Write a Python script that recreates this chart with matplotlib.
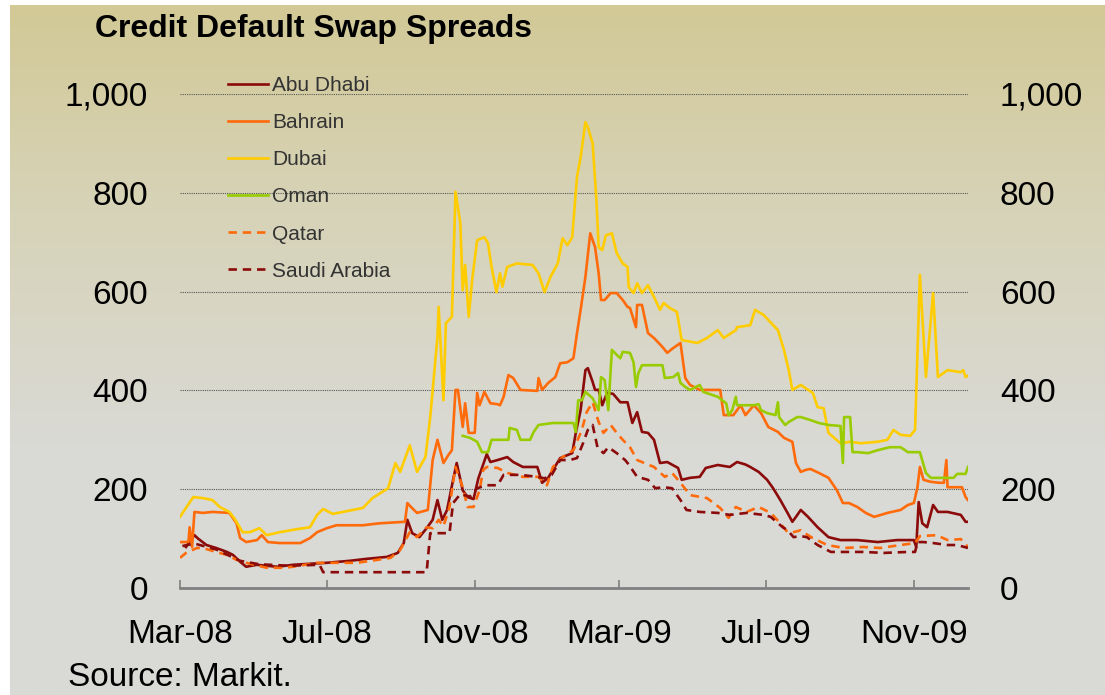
import numpy as np
import pandas as pd
import matplotlib
matplotlib.use("Agg")
import matplotlib.pyplot as plt
import matplotlib.dates as mdates
from matplotlib.ticker import FuncFormatter
from matplotlib.colors import LinearSegmentedColormap

plt.rcParams['font.family'] = ['Liberation Sans', 'DejaVu Sans']

# CDS spreads (bp)
abu_dhabi_dates = ['2008-03-06', '2008-03-13', '2008-03-16', '2008-03-23', '2008-03-31', '2008-04-09',
                   '2008-04-14', '2008-04-20', '2008-04-25', '2008-05-04', '2008-05-12', '2008-05-21',
                   '2008-06-03', '2008-06-17', '2008-07-01', '2008-07-20', '2008-08-03', '2008-08-20',
                   '2008-08-29', '2008-09-03', '2008-09-06', '2008-09-10', '2008-09-16', '2008-09-22',
                   '2008-09-27', '2008-10-01', '2008-10-05', '2008-10-09', '2008-10-14', '2008-10-17',
                   '2008-10-22', '2008-10-26', '2008-10-31', '2008-11-04', '2008-11-11', '2008-11-14',
                   '2008-11-20', '2008-11-28', '2008-12-03', '2008-12-11', '2008-12-23', '2008-12-27',
                   '2009-01-01', '2009-01-05', '2009-01-11', '2009-01-17', '2009-01-21', '2009-01-24',
                   '2009-01-28', '2009-02-01', '2009-02-03', '2009-02-07', '2009-02-09', '2009-02-12',
                   '2009-02-15', '2009-02-19', '2009-02-24', '2009-03-02', '2009-03-08', '2009-03-12',
                   '2009-03-16', '2009-03-20', '2009-03-25', '2009-03-30', '2009-04-04', '2009-04-10',
                   '2009-04-19', '2009-04-22', '2009-04-29', '2009-05-07', '2009-05-12', '2009-05-22',
                   '2009-06-01', '2009-06-07', '2009-06-14', '2009-06-18', '2009-06-25', '2009-07-02',
                   '2009-07-07', '2009-07-13', '2009-07-19', '2009-07-23', '2009-07-26', '2009-07-30',
                   '2009-08-05', '2009-08-13', '2009-08-22', '2009-09-01', '2009-09-15', '2009-10-02',
                   '2009-10-18', '2009-11-01', '2009-11-03', '2009-11-05', '2009-11-08', '2009-11-12',
                   '2009-11-17', '2009-11-21', '2009-11-29', '2009-12-10', '2009-12-14', '2009-12-16']
abu_dhabi = [83, 107, 100, 87, 81, 73, 67, 53, 43, 47, 45, 43, 47, 49, 51, 55, 59, 63, 71, 91, 138, 111,
             103, 121, 138, 178, 138, 158, 219, 253, 198, 184, 180, 222, 271, 255, 259, 265, 255, 245,
             245, 213, 223, 239, 263, 269, 273, 314, 360, 441, 445, 417, 401, 401, 370, 395, 393, 376,
             376, 334, 356, 316, 314, 300, 253, 255, 243, 219, 223, 225, 243, 249, 245, 255, 250, 245,
             235, 219, 202, 178, 152, 134, 144, 158, 144, 123, 103, 97, 97, 93, 97, 97, 83, 174, 131,
             123, 168, 154, 154, 148, 134, 134]

bahrain_dates = ['2008-03-01', '2008-03-08', '2008-03-09', '2008-03-11', '2008-03-13', '2008-03-20',
                 '2008-03-28', '2008-04-11', '2008-04-17', '2008-04-20', '2008-04-25', '2008-05-04',
                 '2008-05-08', '2008-05-13', '2008-05-23', '2008-06-09', '2008-06-17', '2008-06-23',
                 '2008-07-01', '2008-07-09', '2008-07-31', '2008-08-14', '2008-09-04', '2008-09-06',
                 '2008-09-09', '2008-09-14', '2008-09-23', '2008-09-27', '2008-10-01', '2008-10-06',
                 '2008-10-10', '2008-10-13', '2008-10-16', '2008-10-18', '2008-10-22', '2008-10-24',
                 '2008-10-27', '2008-11-01', '2008-11-03', '2008-11-05', '2008-11-09', '2008-11-14',
                 '2008-11-20', '2008-11-22', '2008-11-25', '2008-11-29', '2008-12-03', '2008-12-09',
                 '2008-12-23', '2008-12-24', '2008-12-27', '2009-01-01', '2009-01-07', '2009-01-11',
                 '2009-01-17', '2009-01-22', '2009-01-25', '2009-01-28', '2009-02-01', '2009-02-05',
                 '2009-02-09', '2009-02-12', '2009-02-14', '2009-02-17', '2009-02-22', '2009-02-27',
                 '2009-03-04', '2009-03-08', '2009-03-10', '2009-03-15', '2009-03-16', '2009-03-20',
                 '2009-03-25', '2009-03-30', '2009-04-06', '2009-04-10', '2009-04-14', '2009-04-21',
                 '2009-04-25', '2009-04-29', '2009-05-07', '2009-05-24', '2009-05-27', '2009-06-04',
                 '2009-06-10', '2009-06-14', '2009-06-21', '2009-06-27', '2009-07-03', '2009-07-11',
                 '2009-07-16', '2009-07-23', '2009-07-26', '2009-07-30', '2009-08-03', '2009-08-07',
                 '2009-08-14', '2009-08-22', '2009-08-29', '2009-09-03', '2009-09-08', '2009-09-15',
                 '2009-09-22', '2009-09-29', '2009-10-10', '2009-10-21', '2009-10-27', '2009-11-01',
                 '2009-11-04', '2009-11-06', '2009-11-09', '2009-11-15', '2009-11-22', '2009-11-26',
                 '2009-11-28', '2009-11-29', '2009-12-04', '2009-12-11', '2009-12-14', '2009-12-16']
bahrain = [93, 93, 123, 83, 154, 152, 154, 152, 131, 101, 93, 97, 107, 93, 91, 91, 101, 113, 121, 127,
           127, 131, 134, 172, 164, 152, 158, 259, 300, 253, 269, 279, 401, 401, 326, 374, 314, 314,
           395, 370, 397, 374, 372, 370, 387, 431, 425, 401, 399, 425, 401, 415, 427, 455, 457, 465,
           516, 563, 630, 718, 690, 637, 583, 583, 597, 597, 583, 569, 567, 528, 573, 573, 516, 506,
           488, 476, 484, 496, 425, 411, 401, 401, 350, 350, 370, 350, 370, 354, 326, 316, 304, 296,
           253, 235, 239, 241, 233, 223, 198, 172, 172, 164, 152, 144, 152, 158, 168, 172, 204, 245,
           219, 215, 213, 213, 259, 204, 204, 204, 184, 178]

dubai_dates = ['2008-03-01', '2008-03-12', '2008-03-20', '2008-03-28', '2008-04-03', '2008-04-11',
               '2008-04-16', '2008-04-22', '2008-04-28', '2008-05-06', '2008-05-12', '2008-05-23',
               '2008-06-06', '2008-06-17', '2008-06-23', '2008-06-28', '2008-07-06', '2008-07-31',
               '2008-08-08', '2008-08-21', '2008-08-27', '2008-08-31', '2008-09-08', '2008-09-14',
               '2008-09-21', '2008-09-25', '2008-10-01', '2008-10-02', '2008-10-06', '2008-10-08',
               '2008-10-13', '2008-10-16', '2008-10-20', '2008-10-22', '2008-10-24', '2008-10-27',
               '2008-10-30', '2008-11-03', '2008-11-09', '2008-11-12', '2008-11-15', '2008-11-19',
               '2008-11-22', '2008-11-24', '2008-11-28', '2008-12-06', '2008-12-19', '2008-12-24',
               '2008-12-29', '2009-01-03', '2009-01-09', '2009-01-13', '2009-01-17', '2009-01-21',
               '2009-01-25', '2009-01-28', '2009-02-01', '2009-02-03', '2009-02-07', '2009-02-10',
               '2009-02-12', '2009-02-15', '2009-02-18', '2009-02-23', '2009-02-27', '2009-03-04',
               '2009-03-08', '2009-03-09', '2009-03-13', '2009-03-16', '2009-03-20', '2009-03-25',
               '2009-03-30', '2009-04-04', '2009-04-07', '2009-04-12', '2009-04-18', '2009-04-22',
               '2009-05-05', '2009-05-13', '2009-05-22', '2009-05-27', '2009-06-06', '2009-06-07',
               '2009-06-18', '2009-06-22', '2009-06-29', '2009-07-11', '2009-07-16', '2009-07-20',
               '2009-07-23', '2009-07-30', '2009-08-09', '2009-08-13', '2009-08-18', '2009-08-22',
               '2009-09-01', '2009-09-09', '2009-09-18', '2009-10-02', '2009-10-10', '2009-10-15',
               '2009-10-21', '2009-10-29', '2009-11-02', '2009-11-06', '2009-11-11', '2009-11-17',
               '2009-11-21', '2009-11-29', '2009-12-10', '2009-12-12', '2009-12-14', '2009-12-16']
dubai = [144, 184, 182, 178, 164, 154, 138, 113, 113, 121, 107, 113, 119, 123, 148, 160, 150, 162, 182,
         202, 253, 235, 289, 235, 265, 346, 508, 569, 380, 536, 549, 802, 739, 603, 654, 549, 627, 704,
         710, 698, 650, 599, 637, 610, 650, 657, 654, 637, 599, 630, 657, 708, 694, 710, 832, 872, 943,
         933, 900, 791, 690, 684, 714, 718, 678, 657, 650, 609, 597, 617, 597, 613, 589, 563, 577, 567,
         559, 502, 496, 506, 522, 506, 522, 528, 532, 563, 553, 522, 482, 441, 401, 411, 395, 366, 364,
         314, 293, 296, 293, 296, 300, 320, 310, 308, 320, 634, 427, 597, 427, 441, 437, 441, 427, 430]

oman_dates = ['2008-10-22', '2008-10-28', '2008-11-03', '2008-11-07', '2008-11-12', '2008-11-15',
              '2008-11-29', '2008-11-30', '2008-12-06', '2008-12-09', '2008-12-17', '2008-12-20',
              '2008-12-24', '2009-01-05', '2009-01-22', '2009-01-24', '2009-01-26', '2009-01-29',
              '2009-02-01', '2009-02-07', '2009-02-12', '2009-02-14', '2009-02-17', '2009-02-20',
              '2009-02-23', '2009-02-27', '2009-03-02', '2009-03-04', '2009-03-10', '2009-03-13',
              '2009-03-15', '2009-03-17', '2009-03-20', '2009-04-06', '2009-04-08', '2009-04-15',
              '2009-04-19', '2009-04-21', '2009-04-25', '2009-04-29', '2009-05-07', '2009-05-10',
              '2009-05-22', '2009-05-29', '2009-05-31', '2009-06-03', '2009-06-06', '2009-06-07',
              '2009-06-21', '2009-06-25', '2009-06-27', '2009-07-02', '2009-07-09', '2009-07-11',
              '2009-07-12', '2009-07-17', '2009-07-20', '2009-07-27', '2009-07-30', '2009-08-07',
              '2009-08-14', '2009-08-22', '2009-09-01', '2009-09-03', '2009-09-04', '2009-09-09',
              '2009-09-11', '2009-09-15', '2009-09-24', '2009-10-02', '2009-10-12', '2009-10-21',
              '2009-10-27', '2009-11-06', '2009-11-11', '2009-11-15', '2009-12-04', '2009-12-07',
              '2009-12-14', '2009-12-16']
oman = [308, 304, 296, 275, 275, 300, 300, 324, 320, 300, 300, 316, 330, 334, 334, 316, 380, 380, 397,
        384, 360, 427, 421, 360, 482, 472, 465, 478, 476, 457, 407, 435, 451, 451, 425, 427, 435, 415,
        407, 401, 411, 397, 387, 374, 350, 360, 387, 370, 370, 372, 360, 354, 350, 376, 346, 330, 336,
        346, 346, 340, 334, 330, 328, 253, 346, 346, 275, 275, 273, 279, 285, 285, 275, 275, 233, 223,
        223, 231, 231, 245]

qatar_dates = ['2008-03-01', '2008-03-06', '2008-03-15', '2008-03-20', '2008-03-31', '2008-04-09',
               '2008-04-17', '2008-04-25', '2008-05-12', '2008-05-26', '2008-06-03', '2008-06-23',
               '2008-07-09', '2008-07-26', '2008-08-12', '2008-08-23', '2008-08-31', '2008-09-08',
               '2008-09-14', '2008-09-22', '2008-09-27', '2008-10-02', '2008-10-06', '2008-10-11',
               '2008-10-16', '2008-10-22', '2008-10-26', '2008-10-31', '2008-11-05', '2008-11-08',
               '2008-11-11', '2008-11-20', '2008-11-28', '2008-12-11', '2008-12-24', '2008-12-31',
               '2009-01-05', '2009-01-13', '2009-01-22', '2009-01-29', '2009-02-02', '2009-02-07',
               '2009-02-12', '2009-02-16', '2009-02-22', '2009-02-27', '2009-03-04', '2009-03-10',
               '2009-03-16', '2009-03-30', '2009-04-08', '2009-04-14', '2009-04-21', '2009-04-29',
               '2009-05-13', '2009-05-24', '2009-05-31', '2009-06-06', '2009-06-15', '2009-06-25',
               '2009-07-05', '2009-07-13', '2009-07-19', '2009-07-24', '2009-07-30', '2009-08-01',
               '2009-08-09', '2009-08-21', '2009-09-04', '2009-09-20', '2009-10-04', '2009-10-21',
               '2009-11-02', '2009-11-06', '2009-11-20', '2009-11-29', '2009-12-10', '2009-12-16']
qatar = [61, 71, 81, 81, 73, 67, 57, 51, 41, 41, 43, 51, 51, 51, 57, 61, 77, 113, 103, 123, 121, 138,
         125, 164, 245, 204, 164, 164, 198, 239, 245, 243, 233, 225, 225, 208, 245, 265, 279, 320, 356,
         376, 336, 314, 330, 314, 300, 285, 259, 245, 225, 233, 213, 188, 182, 162, 142, 164, 154, 164,
         152, 131, 113, 113, 117, 113, 101, 87, 81, 83, 81, 87, 91, 105, 107, 97, 99, 83]

saudi_dates = ['2008-03-03', '2008-03-13', '2008-03-31', '2008-04-20', '2008-05-06', '2008-05-31',
               '2008-06-25', '2008-06-28', '2008-09-22', '2008-09-25', '2008-10-11', '2008-10-14',
               '2008-10-20', '2008-10-28', '2008-11-03', '2008-11-11', '2008-11-20', '2008-11-25',
               '2008-12-09', '2008-12-23', '2008-12-29', '2009-01-04', '2009-01-11', '2009-01-19',
               '2009-01-25', '2009-01-30', '2009-02-03', '2009-02-07', '2009-02-11', '2009-02-16',
               '2009-02-20', '2009-02-27', '2009-03-06', '2009-03-08', '2009-03-16', '2009-03-25',
               '2009-03-31', '2009-04-07', '2009-04-14', '2009-04-21', '2009-04-26', '2009-05-07',
               '2009-05-22', '2009-06-01', '2009-06-15', '2009-06-29', '2009-07-05', '2009-07-15',
               '2009-07-19', '2009-07-24', '2009-07-30', '2009-08-04', '2009-08-13', '2009-08-24',
               '2009-09-04', '2009-09-20', '2009-10-07', '2009-10-27', '2009-11-02', '2009-11-04',
               '2009-11-09', '2009-11-17', '2009-11-29', '2009-12-07', '2009-12-16']
saudi = [85, 90, 78, 55, 48, 45, 47, 32, 32, 111, 111, 172, 190, 185, 202, 208, 208, 229, 229, 225,
         222, 229, 259, 259, 263, 293, 320, 330, 285, 273, 285, 273, 259, 253, 225, 219, 202, 204, 202,
         178, 158, 154, 152, 148, 152, 148, 144, 123, 117, 103, 105, 103, 87, 73, 73, 73, 71, 73, 73,
         93, 93, 91, 87, 87, 81]

series = [
    ('Abu Dhabi', abu_dhabi_dates, abu_dhabi, '#8b0a0a', '-'),
    ('Bahrain', bahrain_dates, bahrain, '#ff6a0a', '-'),
    ('Dubai', dubai_dates, dubai, '#ffcc00', '-'),
    ('Oman', oman_dates, oman, '#99cc00', '-'),
    ('Qatar', qatar_dates, qatar, '#ff6a0a', '--'),
    ('Saudi Arabia', saudi_dates, saudi, '#8b0a0a', '--'),
]

W, H = 1105, 695
fig = plt.figure(figsize=(W / 100, H / 100), dpi=100)
fig.patch.set_facecolor('white')

# gradient background (khaki at top fading to light grey)
bg = fig.add_axes([10 / W, 0, 1 - 10 / W, 1 - 5 / H], zorder=-5)
cmap = LinearSegmentedColormap.from_list('bg', [(0.0, '#d9d9d5'), (0.35, '#dadad6'),
                                                 (0.7, '#d7d3b8'), (1.0, '#d2c996')])
grad = np.linspace(0, 1, 256).reshape(-1, 1)
bg.imshow(grad, aspect='auto', cmap=cmap, origin='lower', extent=[0, 1, 0, 1])
bg.axis('off')

ax = fig.add_axes([180 / W, 107 / H, 788 / W, 494 / H])
ax.patch.set_alpha(0)

for name, d, v, color, ls in series:
    kw = dict(dashes=(3.2, 2.2)) if ls == '--' else {}
    ax.plot(pd.to_datetime(d), v, color=color, lw=1.9, ls=ls, label=name,
            solid_joinstyle='round', **kw)

ax.set_xlim(pd.Timestamp('2008-03-01'), pd.Timestamp('2009-12-16'))
ax.set_ylim(0, 1000)
ax.set_yticks(range(0, 1001, 200))
ax.yaxis.set_major_formatter(FuncFormatter(lambda v, p: f'{int(v):,}'))
ax.grid(axis='y', color='#555555', lw=0.8, ls=(0, (1, 1)))
ax.xaxis.set_major_locator(mdates.MonthLocator(bymonth=(3, 7, 11)))
ax.xaxis.set_major_formatter(mdates.DateFormatter('%b-%y'))

for s in ['top', 'right', 'left']:
    ax.spines[s].set_visible(False)
ax.spines['bottom'].set_color('#808080')
ax.spines['bottom'].set_linewidth(2)
ax.tick_params(axis='x', direction='in', length=6, width=1.2, color='#808080',
               labelsize=24, pad=22)
ax.tick_params(axis='y', length=0, labelsize=24, pad=23)

ax2 = ax.twinx()
ax2.set_ylim(0, 1000)
ax2.set_yticks(range(0, 1001, 200))
ax2.yaxis.set_major_formatter(FuncFormatter(lambda v, p: f'{int(v):,}'))
ax2.tick_params(axis='y', length=0, labelsize=24, pad=23)
for s in ax2.spines.values():
    s.set_visible(False)

leg = ax.legend(loc='upper left', bbox_to_anchor=(228 / W, 1 - 76 / H),
                bbox_transform=fig.transFigure, frameon=False, fontsize=15,
                handlelength=1.9, handletextpad=0.2, labelspacing=0.87,
                borderpad=0, borderaxespad=0)
for t in leg.get_texts():
    t.set_color('#333333')

fig.text(95 / W, 1 - 29 / H, 'Credit Default Swap Spreads', fontsize=23,
         fontweight='bold', va='center', ha='left')
fig.text(68 / W, 1 - 678 / H, 'Source: Markit.', fontsize=24, va='center', ha='left')

fig.savefig('out.png', dpi=100)
